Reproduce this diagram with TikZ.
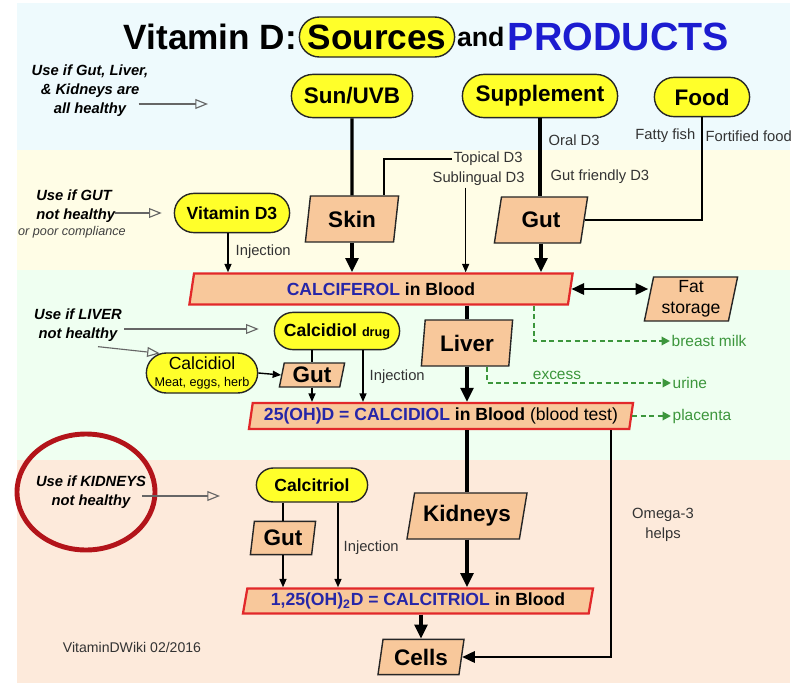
\documentclass[tikz,border=0pt]{standalone}
\usepackage{fontspec}
\setmainfont{Liberation Sans}
\usetikzlibrary{arrows.meta, positioning, calc, shapes.geometric, shapes.misc}

\definecolor{skyband}{HTML}{EEFAFD}
\definecolor{yellowband}{HTML}{FFFDE6}
\definecolor{greenband}{HTML}{EFFFF1}
\definecolor{peachband}{HTML}{FDEADB}
\definecolor{peach}{HTML}{F8C89B}
\definecolor{srcyellow}{HTML}{FFFF2A}
\definecolor{bloodred}{HTML}{E2282A}
\definecolor{chemblue}{HTML}{2626A8}
\definecolor{titleblue}{HTML}{1C1CD0}
\definecolor{exitgreen}{HTML}{3C963C}
\definecolor{circlered}{HTML}{B3141A}

\begin{document}
\begin{tikzpicture}[x=0.025cm, y=-0.025cm,
    source/.style={rounded rectangle, draw=black!85, line width=1pt, fill=srcyellow, inner sep=0pt, font=\fontsize{16}{19}\selectfont\bfseries},
    drug/.style={source, font=\fontsize{12.5}{15}\selectfont\bfseries},
    organ/.style={trapezium, trapezium left angle=73, trapezium right angle=107, trapezium stretches body=true, draw=black!85, line width=1pt, fill=peach, inner sep=0pt, font=\fontsize{16}{19}\selectfont\bfseries},
    blood/.style={organ, draw=bloodred, line width=1.6pt, font=\fontsize{12.5}{15}\selectfont\bfseries},
    hint/.style={font=\fontsize{10.5}{13.5}\selectfont\bfseries\itshape, align=center, inner sep=0pt},
    lbl/.style={font=\fontsize{10.5}{14}\selectfont, text=black!80, inner sep=1pt},
    exitlbl/.style={font=\fontsize{11}{13}\selectfont, text=exitgreen, inner sep=1pt},
    hintarrow/.style={draw=black!60, line width=0.8pt, -{Triangle[open, length=9pt, width=7pt]}},
    thickline/.style={line width=2.4pt},
    thickarrow/.style={thickline, -{Triangle[length=10pt, width=9pt]}},
    thinline/.style={line width=1pt},
    thinarrow/.style={thinline, -{Triangle[length=6pt, width=5pt]}},
    dblarrow/.style={line width=1.8pt, {Triangle[length=9pt, width=8pt]}-{Triangle[length=9pt, width=8pt]}},
    omegaline/.style={line width=1.8pt, -{Triangle[length=9pt, width=8pt]}},
    exitarrow/.style={exitgreen, line width=1.4pt, dash pattern=on 3.5pt off 2.5pt, -{Triangle[length=6pt, width=6pt]}},
  ]
    \useasboundingbox (0,0) rectangle (792,685);
    \fill[skyband] (17,3) rectangle (790,150);
    \fill[yellowband] (17,150) rectangle (790,270);
    \fill[greenband] (17,270) rectangle (790,460);
    \fill[peachband] (17,460) rectangle (790,683);

    % title
    \node[source, minimum width=3.88cm, minimum height=1cm, font=\fontsize{25}{30}\selectfont\bfseries] (sources) at (377,37) {Sources};
    \node[left=1pt of sources, inner sep=0pt, font=\fontsize{25}{30}\selectfont\bfseries] (title) {Vitamin D:};
    \node[right=1pt of sources, inner sep=0pt, font=\fontsize{19}{23}\selectfont\bfseries] (and) {and};
    \node[right=2pt of and, inner sep=0pt, text=titleblue, font=\fontsize{28}{32}\selectfont\bfseries] (products) {PRODUCTS};

    % sources
    \node[source, minimum width=3.03cm, minimum height=1.08cm] (sun) at (352,96) {Sun/UVB};
    \node[source, minimum width=3.88cm, minimum height=1.08cm] (supp) at (540,96) {Supplement};
    \node[source, minimum width=2.38cm, minimum height=0.98cm] (food) at (702,97) {Food};
    \node[lbl, anchor=west] (oral) at (547,140) {Oral D3};
    \node[lbl, anchor=east] (fish) at (697,136) {Fatty fish};
    \node[lbl, anchor=west] (fortified) at (704,136) {Fortified food};
    \node[lbl, anchor=west] (topical) at (452,159) {Topical D3};
    \node[lbl, anchor=west] (subling) at (431,179) {Sublingual D3};
    \node[lbl, anchor=west] (gutfriendly) at (549,177) {Gut friendly D3};

    % calciferol row
    \node[organ, minimum width=2.33cm, minimum height=1.15cm] (skin) at (352,219) {Skin};
    \node[organ, trapezium left angle=66, trapezium right angle=114, minimum width=2.33cm, minimum height=1.15cm] (gut) at (541,220) {Gut};
    \node[drug, minimum width=2.88cm, minimum height=0.98cm] (vitd) at (232,213) {Vitamin D3};
    \node[lbl, anchor=west] (injd) at (234,252) {Injection};
    \node[blood, trapezium left angle=70, trapezium right angle=110, minimum width=9.58cm, minimum height=0.78cm] (calciferol) at (381,289) {\textcolor{chemblue}{CALCIFEROL} in Blood};
    \node[organ, font=\fontsize{12.5}{15}\selectfont, align=center, trapezium left angle=76, trapezium right angle=104, minimum width=2.33cm, minimum height=1.1cm] (fat) at (691,299) {Fat\\storage};

    % calcidiol row
    \node[organ, trapezium left angle=77, trapezium right angle=103, minimum width=2.28cm, minimum height=1.15cm] (liver) at (467,343) {Liver};
    \node[drug, minimum width=3.13cm, minimum height=0.93cm] (cddrug) at (337,331) {Calcidiol {\fontsize{9}{11}\selectfont drug}};
    \node[source, font=\fontsize{12.5}{12}\selectfont, align=center, minimum width=2.75cm, minimum height=1cm] (cdfood) at (202,373) {Calcidiol\\{\fontsize{9}{11}\selectfont Meat, eggs, herb}};
    \node[organ, minimum width=1.63cm, minimum height=0.6cm] (gutb) at (312,375) {Gut};
    \node[lbl, anchor=west] (injcd) at (368,377) {Injection};
    \node[blood, trapezium left angle=77, trapezium right angle=103, minimum width=9.6cm, minimum height=0.65cm] (calcidiol) at (441,416) {\textcolor{chemblue}{25(OH)D = CALCIDIOL} in Blood {\mdseries (blood test)}};
    \node[exitlbl, anchor=west] (milk) at (670,341) {breast milk};
    \node[exitlbl, anchor=west] (urine) at (671,383) {urine};
    \node[exitlbl, anchor=west] (placenta) at (671,416) {placenta};
    \node[exitlbl] (excess) at (557,375) {excess};

    % calcitriol row
    \node[drug, minimum width=2.78cm, minimum height=0.85cm] (calcitriol) at (312,485) {Calcitriol};
    \node[organ, trapezium left angle=76, trapezium right angle=104, minimum width=1.63cm, minimum height=0.83cm] (gutc) at (283,538) {Gut};
    \node[lbl, anchor=west] (injct) at (342,548) {Injection};
    \node[organ, trapezium left angle=70, trapezium right angle=110, minimum width=3cm, minimum height=1.15cm] (kidneys) at (467,516) {Kidneys};
    \node[blood, trapezium left angle=75, trapezium right angle=105, minimum width=8.75cm, minimum height=0.63cm] (calcitriolb) at (418,601) {\textcolor{chemblue}{1,25(OH)\textsubscript{2}D = CALCITRIOL} in Blood};
    \node[organ, minimum width=2.15cm, minimum height=0.88cm] (cells) at (421,657) {Cells};
    \node[lbl, align=center] (omega) at (663,525) {Omega-3\\helps};
    \node[lbl, font=\fontsize{10}{12}\selectfont] (credit) at (132,647) {VitaminDWiki 02/2016};

    % notes on the left
    \node[hint] (hintall) at (90,91) {Use if Gut, Liver,\\\& Kidneys are\\all healthy};
    \node[hint, align=left, anchor=west] (hintgut) at (36,206) {Use if GUT\\not healthy};
    \node[inner sep=0pt, text=black!75, font=\fontsize{9}{11}\selectfont\itshape] (compliance) at (72,232) {or poor compliance};
    \node[hint] (hintliver) at (78,325) {Use if LIVER\\not healthy};
    \node[hint] (hintkidney) at (91,492) {Use if KIDNEYS\\not healthy};
    \draw[circlered, line width=3.5pt] (86,492) ellipse [x radius=69, y radius=58];
    \coordinate (hintsun) at (208,104);
    \coordinate (hintct) at (220,496);

    % connectors
    \draw[hintarrow] ($(hintall.east)+(-10,13)$) -- (hintsun);
    \draw[hintarrow] (hintgut.east |- vitd.west) -- ($(vitd.west)+(-12,0)$);
    \draw[hintarrow] ($(hintliver.east)+(2,4)$) -- ($(cddrug.west)+(-15,-2)$);
    \draw[hintarrow] ($(hintliver.south)+(20,5)$) -- (cdfood.155);
    \draw[hintarrow] ($(hintkidney.east)+(-4,4)$) -- (hintct);

    \draw[thickline] (sun.south) -- (skin.north);
    \draw[thickarrow] (skin.south) -- (skin.south |- calciferol.north);
    \draw[thickline] (supp.south) -- (supp.south |- gut.north);
    \draw[thickarrow] (gut.south) -- (gut.south |- calciferol.north);
    \draw[thinline] (food.south) |- (gut.east);
    \draw[thinline] (topical.west) -| ($(skin.north)+(32,0)$);
    \draw[thinarrow] ($(subling.south)+(-13,0)$) coordinate (sl) -- (sl |- calciferol.north);
    \draw[thinarrow] ($(vitd.south)+(-4,0)$) coordinate (vi) -- (vi |- calciferol.north);
    \draw[dblarrow] (calciferol.east) -- (calciferol.east -| fat.west);

    \draw[thickline] (liver.north |- calciferol.south) -- (liver.north);
    \draw[thickarrow] (liver.south) -- (liver.south |- calcidiol.north);
    \draw[exitarrow] ($(calciferol.south)+(153,0)$) |- (milk.west);
    \draw[exitarrow] ($(liver.south)+(20,0)$) |- (urine.west);
    \draw[exitarrow] (calcidiol.east) -- (calcidiol.east -| placenta.west);
    \draw[thinarrow] (cdfood.east) -- (gutb.west);
    \draw[thinline] ($(cddrug.south)+(-25,0)$) coordinate (dg) -- (dg |- gutb.north);
    \draw[thinarrow] (gutb.south) -- (gutb.south |- calcidiol.north);
    \draw[thinarrow] ($(cddrug.south)+(26,0)$) coordinate (dj) -- (dj |- calcidiol.north);

    \draw[thinline] ($(calcitriol.south)+(-29,0)$) coordinate (cg) -- (cg |- gutc.north);
    \draw[thinarrow] (gutc.south) -- (gutc.south |- calcitriolb.north);
    \draw[thinarrow] ($(calcitriol.south)+(26,0)$) coordinate (cj) -- (cj |- calcitriolb.north);
    \draw[thickline] (kidneys.north |- calcidiol.south) -- (kidneys.north);
    \draw[thickarrow] (kidneys.south) -- (kidneys.south |- calcitriolb.north);
    \draw[thickarrow] (cells.north |- calcitriolb.south) -- (cells.north);
    \draw[omegaline] ($(calcidiol.south)+(170,0)$) |- (cells.east);
\end{tikzpicture}
\end{document}
